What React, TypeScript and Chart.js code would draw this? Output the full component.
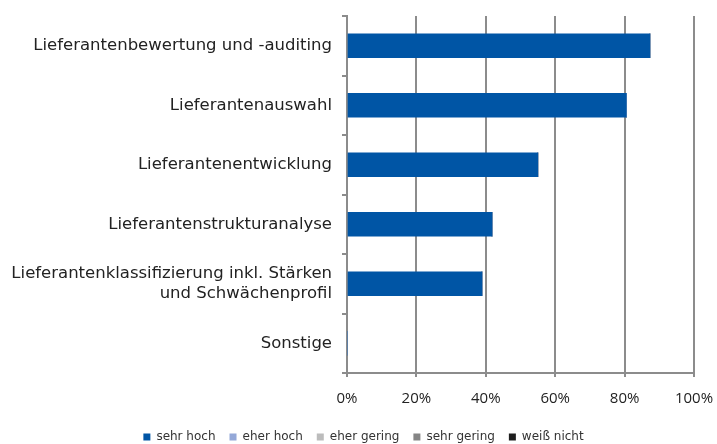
import React, { useEffect, useRef } from "react";
import { Chart, registerables } from "chart.js";

Chart.register(...registerables);

const categories: (string | string[])[] = [
  "Lieferantenbewertung und -auditing",
  "Lieferantenauswahl",
  "Lieferantenentwicklung",
  "Lieferantenstrukturanalyse",
  ["Lieferantenklassifizierung inkl. Stärken", "und Schwächenprofil"],
  "Sonstige",
];

const seriesNames = ["sehr hoch", "eher hoch", "eher gering", "sehr gering", "weiß nicht"];
const seriesColors = ["#0055a5", "#94a8d8", "#bcbcbc", "#858585", "#1e1e1e"];

const sehrHoch = [87.3, 80.5, 55.0, 41.8, 38.9, 0];
const eherHoch = [0, 0, 0, 0, 0, 0];
const eherGering = [0, 0, 0, 0, 0, 0];
const sehrGering = [0, 0, 0, 0, 0, 0];
const weissNicht = [0, 0, 0, 0, 0, 0];

const xTicks = [0, 20, 40, 60, 80, 100];

const legendShift = {
  id: "legendShift",
  afterLayout(chart: any) {
    if (chart.legend) {
      chart.legend.left += 16.5;
      chart.legend.right += 16.5;
    }
  },
};

export default function App() {
  const ref = useRef<HTMLCanvasElement | null>(null);

  useEffect(() => {
    document.body.style.margin = "0";
    const ctx = ref.current!;
    const values = [sehrHoch, eherHoch, eherGering, sehrGering, weissNicht];
    const chart = new Chart(ctx, {
      type: "bar",
      data: {
        labels: categories,
        datasets: seriesNames.map((name, i) => ({
          label: name,
          data: values[i],
          backgroundColor: seriesColors[i],
          borderWidth: 0,
          barThickness: 24,
          stack: "s",
        })),
      },
      options: {
        animation: false,
        responsive: false,
        indexAxis: "y",
        layout: { padding: { top: 16, right: 23, left: 0, bottom: 0 } },
        scales: {
          x: {
            stacked: true,
            min: 0,
            max: 100,
            afterBuildTicks: (s: any) => {
              s.ticks = xTicks.map((v) => ({ value: v }));
            },
            afterFit: (s: any) => {
              s.height = 44;
              s.paddingLeft = 0;
              s.paddingRight = 0;
            },
            ticks: {
              callback: (v: any) => v + "%",
              color: "#222",
              font: { family: "Open Sans", size: 15 },
              padding: 13,
            },
            grid: { color: "#8c8c8c", lineWidth: 2, tickLength: 4, drawTicks: true },
            border: { color: "#8c8c8c", width: 2 },
          },
          y: {
            stacked: true,
            afterFit: (s: any) => {
              s.width = 347;
              s.paddingTop = 0;
              s.paddingBottom = 0;
            },
            ticks: {
              color: "#222",
              font: { family: "DejaVu Sans", size: 16.5 },
              padding: 10,
            },
            grid: { drawOnChartArea: false, color: "#8c8c8c", lineWidth: 2, tickLength: 5, offset: true },
            border: { color: "#8c8c8c", width: 2 },
          },
        },
        plugins: {
          legend: {
            position: "bottom",
            labels: {
              boxWidth: 7,
              boxHeight: 7,
              color: "#333",
              font: { family: "DejaVu Sans", size: 12 },
              padding: 14,
            },
          },
          tooltip: { enabled: false },
        },
      },
      plugins: [legendShift],
    });
    return () => chart.destroy();
  }, []);

  return (
    <div style={{ width: 717, height: 444, overflow: "hidden" }}>
      <canvas ref={ref} width={717} height={453} style={{ display: "block" }} />
    </div>
  );
}
